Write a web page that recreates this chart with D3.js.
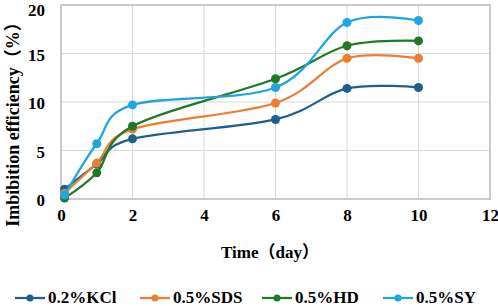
<!DOCTYPE html>
<html>
<head>
<meta charset="utf-8">
<script src="https://cdn.jsdelivr.net/npm/d3@7"></script>
<style>
  body { margin: 0; background: #fff; }
  svg text { font-family: "Liberation Serif", "Noto Sans CJK SC", serif; font-weight: bold; }
</style>
</head>
<body>
<div id="chart"></div>
<script>
// Data
const days = [0.1, 1, 2, 6, 8, 10];
const seriesNames = ["0.2%KCl", "0.5%SDS", "0.5%HD", "0.5%SY"];
const kcl = [1.0, 3.6, 6.2, 8.2, 11.4, 11.5];
const sds = [0.6, 3.7, 7.2, 9.9, 14.5, 14.5];
const hd = [0.1, 2.7, 7.5, 12.4, 15.8, 16.3];
const sy = [0.4, 5.7, 9.7, 11.5, 18.2, 18.4];
const xTicks = [0, 2, 4, 6, 8, 10, 12];
const yTicks = [0, 5, 10, 15, 20];

const colours = ["#1f5f8b", "#ed7d31", "#1f7a27", "#1ea6e0"];
const width = 498, height = 306;
const margin = { top: 5, right: 8, bottom: 107, left: 61 };

const svg = d3.select("#chart").append("svg")
  .attr("width", width)
  .attr("height", height);

const xScale = d3.scaleLinear().domain([0, 12]).range([margin.left, width - margin.right]);
const yScale = d3.scaleLinear().domain([0, 20]).range([height - margin.bottom, margin.top]);

// Gridlines
svg.append("g")
  .selectAll("line")
  .data(xTicks.slice(1, -1))
  .join("line")
  .attr("x1", d => xScale(d)).attr("x2", d => xScale(d))
  .attr("y1", yScale(0)).attr("y2", yScale(20))
  .attr("stroke", "#d9d9d9").attr("stroke-width", 1);

svg.append("g")
  .selectAll("line")
  .data(yTicks.slice(1, -1))
  .join("line")
  .attr("x1", xScale(0)).attr("x2", xScale(12))
  .attr("y1", d => yScale(d)).attr("y2", d => yScale(d))
  .attr("stroke", "#d9d9d9").attr("stroke-width", 1);

// Plot border
svg.append("rect")
  .attr("x", xScale(0)).attr("y", yScale(20))
  .attr("width", xScale(12) - xScale(0))
  .attr("height", yScale(0) - yScale(20))
  .attr("fill", "none")
  .attr("stroke", "#c9c9c9")
  .attr("stroke-width", 2);

// Axes (labels only)
const xAxis = d3.axisBottom(xScale).tickValues(xTicks).tickSize(0).tickPadding(10);
const yAxis = d3.axisLeft(yScale).tickValues(yTicks).tickSize(0).tickPadding(16);

const gx = svg.append("g")
  .attr("transform", `translate(0, ${yScale(0)})`)
  .call(xAxis);
const gy = svg.append("g")
  .attr("transform", `translate(${xScale(0)}, 0)`)
  .call(yAxis);

[gx, gy].forEach(g => {
  g.attr("font-family", "Liberation Serif, serif");
  g.select(".domain").remove();
  g.selectAll("text")
    .attr("font-size", 17)
    .attr("fill", "#000");
});
// keep the top label inside the page
gy.selectAll("text").attr("dy", d => d === 20 ? "0.6em" : "0.4em");

// Axis titles
svg.append("text")
  .attr("x", 270).attr("y", 258)
  .attr("text-anchor", "middle")
  .attr("font-size", 17)
  .text("Time（day）");

svg.append("text")
  .attr("transform", `translate(19, 120) rotate(-90)`)
  .attr("text-anchor", "middle")
  .attr("font-size", 18)
  .text("Imbibition efficiency（%）");

// Series
const allSeries = [kcl, sds, hd, sy];
const line = d3.line()
  .x((d, i) => xScale(days[i]))
  .y(d => yScale(d))
  .curve(d3.curveCardinal.tension(0));

allSeries.forEach((values, s) => {
  svg.append("path")
    .datum(values)
    .attr("d", line)
    .attr("fill", "none")
    .attr("stroke", colours[s])
    .attr("stroke-width", 2.25);

  svg.append("g")
    .selectAll("circle")
    .data(values)
    .join("circle")
    .attr("cx", (d, i) => xScale(days[i]))
    .attr("cy", d => yScale(d))
    .attr("r", 4.5)
    .attr("fill", colours[s]);
});

// Legend
const legendX = [15, 140, 262, 383];
const legend = svg.append("g");
seriesNames.forEach((name, s) => {
  const g = legend.append("g").attr("transform", `translate(${legendX[s]}, 298)`);
  g.append("line")
    .attr("x1", 0).attr("x2", 30)
    .attr("stroke", colours[s]).attr("stroke-width", 2.25);
  g.append("circle")
    .attr("cx", 15).attr("r", 3.5)
    .attr("fill", colours[s]);
  g.append("text")
    .attr("x", 33).attr("y", 5)
    .attr("font-size", 17)
    .text(name);
});
</script>
</body>
</html>
